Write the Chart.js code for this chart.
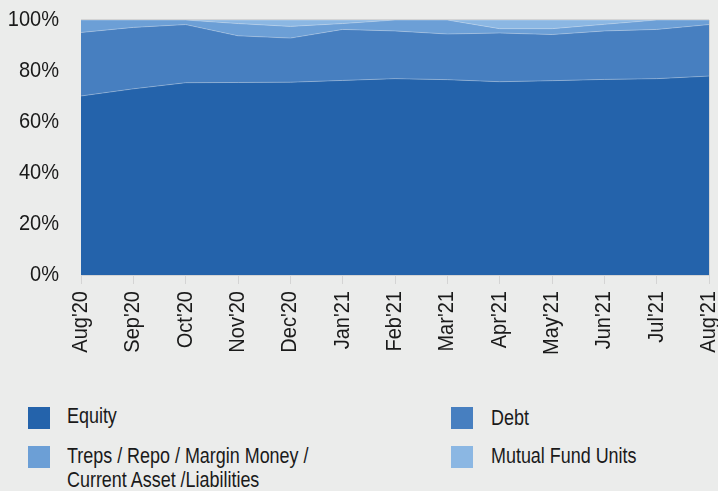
<!DOCTYPE html>
<html><head><meta charset="utf-8">
<script src="https://cdn.jsdelivr.net/npm/chart.js@4"></script>
<style>
html,body{margin:0;padding:0;background:#EBECEB;}
body{width:718px;height:491px;position:relative;overflow:hidden;font-family:'Liberation Sans',Arial,sans-serif;color:#1a1a1a;}
#wrap{position:absolute;left:0;top:0;width:718px;height:395px;}
.lt{position:absolute;font-size:22px;line-height:24px;white-space:nowrap;transform:scaleX(0.815);transform-origin:0 0;}
.sw{position:absolute;width:22px;height:22px;}
</style></head><body>
<div id="wrap"><canvas id="c" width="718" height="395"></canvas></div>
<div id="legend"></div>
<script>
const categories = ["Aug'20","Sep'20","Oct'20","Nov'20","Dec'20","Jan'21","Feb'21","Mar'21","Apr'21","May'21","Jun'21","Jul'21","Aug'21"];
const seriesNames = ["Equity","Debt","Treps / Repo / Margin Money /\nCurrent Asset /Liabilities","Mutual Fund Units"];
const seriesColors = ["#2463AB","#477FC0","#6C9FD6","#8BB7E3"];
const equity = [70.2, 73.0, 75.4, 75.5, 75.6, 76.3, 77.0, 76.6, 75.8, 76.2, 76.7, 77.0, 78.0];
const debt   = [24.9, 24.1, 22.8, 18.3, 17.3, 20.0, 18.7, 17.9, 19.1, 18.1, 19.0, 19.3, 20.2];
const treps  = [ 4.9,  2.9,  1.8,  4.8,  4.6,  2.3,  4.3,  5.5,  1.7,  2.3,  2.6,  3.7,  1.8];
const mfUnits= [ 0.0,  0.0,  0.0,  1.4,  2.5,  1.4,  0.0,  0.0,  3.4,  3.4,  1.7,  0.0,  0.0];
const yTicks = [0, 20, 40, 60, 80, 100];

const FONT = "'Liberation Sans', Arial, sans-serif";
const seriesData = [equity, debt, treps, mfUnits];

const canvas = document.getElementById('c');
const ctx2d = canvas.getContext('2d');
// condensed look: narrow the glyphs horizontally along the text direction
const origFill = ctx2d.fillText.bind(ctx2d);
ctx2d.fillText = function (t, x, y) {
  this.save(); this.translate(x, y); this.scale(0.91, 1); origFill(t, 0, 0); this.restore();
};

new Chart(canvas, {
  type: 'line',
  data: {
    labels: categories,
    datasets: seriesData.map((d, i) => ({
      label: seriesNames[i],
      data: d,
      backgroundColor: seriesColors[i],
      borderColor: 'rgba(255,255,255,0.28)',
      borderWidth: 1,
      pointRadius: 0,
      tension: 0,
      fill: i === 0 ? 'origin' : '-1'
    }))
  },
  options: {
    responsive: false,
    animation: false,
    layout: { padding: { top: 20, right: 9, left: 0, bottom: 0 } },
    plugins: { legend: { display: false }, tooltip: { enabled: false } },
    scales: {
      x: {
        grid: { color: '#d4d4d4', lineWidth: 1, tickLength: 9, drawOnChartArea: true },
        border: { display: false },
        ticks: { color: '#1a1a1a', font: { family: FONT, size: 22 }, minRotation: 90, maxRotation: 90, padding: 7, autoSkip: false },
        afterFit(s) { s.paddingLeft = 0; s.paddingRight = 0; s.height = 120; }
      },
      y: {
        stacked: true,
        min: 0, max: 100,
        afterBuildTicks(s) { s.ticks = yTicks.map(v => ({ value: v })); },
        grid: { color: '#d4d4d4', lineWidth: 2, drawTicks: false },
        border: { display: false },
        ticks: { color: '#1a1a1a', font: { family: FONT, size: 22 }, padding: 22, callback: v => v + '%' },
        afterFit(s) { s.width = 81; s.paddingTop = 0; s.paddingBottom = 0; }
      }
    }
  }
});

const legendPos = [[28, 407, 404.4], [451, 407, 406.4], [28, 446, 443.7], [451, 446, 444.4]];
const leg = document.getElementById('legend');
seriesNames.forEach((n, i) => {
  const [x, y, ty] = legendPos[i];
  const sw = document.createElement('div');
  sw.className = 'sw'; sw.style.left = x + 'px'; sw.style.top = y + 'px'; sw.style.background = seriesColors[i];
  leg.appendChild(sw);
  const t = document.createElement('div');
  t.className = 'lt'; t.style.left = (x + (i % 2 ? 40 : 39)) + 'px'; t.style.top = ty + 'px';
  n.split('\n').forEach((line, k) => { if (k) t.appendChild(document.createElement('br')); t.appendChild(document.createTextNode(line)); });
  leg.appendChild(t);
});
</script>
</body></html>
